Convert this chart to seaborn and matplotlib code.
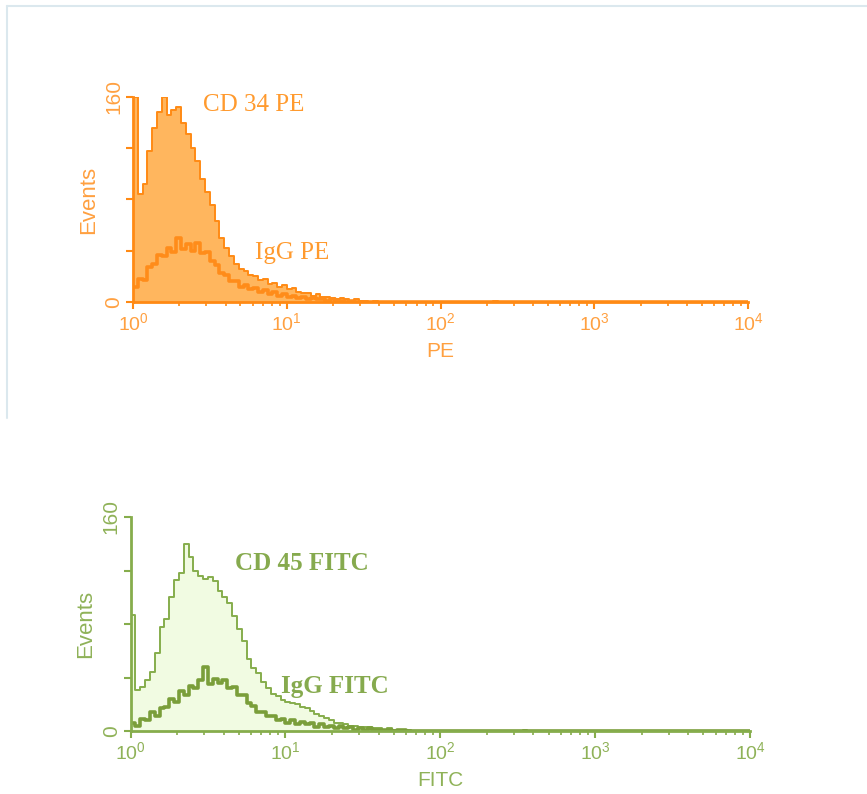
import numpy as np
import pandas as pd
import matplotlib
matplotlib.use("Agg")
import matplotlib.pyplot as plt
import seaborn as sns
from matplotlib.lines import Line2D
from matplotlib.ticker import FixedLocator, LogLocator, NullFormatter, FixedFormatter

# ---------------- data (counts per log channel, 32 channels per decade, starting at 10^0) ----
cd34_pe = [160, 84, 92, 118, 136, 148, 160, 146, 150, 152, 140, 131, 120, 110, 96, 86,
           76, 63, 50, 42, 36, 30, 26, 24, 21, 20, 17, 18, 14, 15, 12, 13,
           10, 11, 8, 7, 7, 5, 6, 4, 4, 3, 2, 3, 2, 1, 2, 1, 1, 0, 1]
igg_pe = [12, 18, 17, 27, 30, 37, 36, 42, 39, 50, 41, 45, 40, 46, 38, 39,
          32, 29, 23, 21, 16, 16, 12, 13, 10, 11, 8, 9, 6, 8, 5, 6,
          4, 5, 3, 4, 2, 3, 2, 2, 1, 2, 1, 1, 0, 1]
cd45_fitc = [87, 31, 33, 38, 44, 58, 78, 84, 100, 113, 118, 140, 130, 120, 116, 114,
             115, 112, 105, 100, 96, 86, 76, 67, 54, 47, 43, 37, 32, 28, 26, 23,
             22, 21, 20, 18, 17, 15, 13, 11, 10, 8, 6, 6, 5, 4, 4, 3,
             3, 3, 2, 2, 1, 2, 1, 1, 0, 1]
igg_fitc = [6, 4, 9, 8, 14, 11, 17, 18, 24, 22, 30, 27, 34, 32, 38, 48,
            35, 39, 36, 38, 32, 33, 27, 27, 21, 19, 14, 14, 11, 11, 8, 9,
            6, 8, 5, 7, 5, 6, 3, 5, 3, 4, 2, 4, 2, 3, 1, 2,
            1, 2, 1, 1, 1, 1, 0, 1, 1]
stray_pe = {75: 1}      # isolated events far out (channel: count)
stray_fitc = {81: 1}

channels_per_decade = 32
n_channels = 128
y_ticks = [0, 40, 80, 120, 160]
y_ticklabels = ["0", "", "", "", "160"]
x_decades = [1, 10, 100, 1000, 10000]
x_ticklabels = ["$10^{0}$", "$10^{1}$", "$10^{2}$", "$10^{3}$", "$10^{4}$"]


def full(counts, stray):
    c = np.zeros(n_channels)
    c[:len(counts)] = counts
    for k, v in stray.items():
        c[k] = v
    return c


centers = 10 ** ((np.arange(n_channels) + 0.5) / channels_per_decade)

# ---------------- style ----------------
sns.set_theme(style="white")
plt.rcParams["font.family"] = ["Liberation Sans", "DejaVu Sans"]
plt.rcParams["mathtext.fontset"] = "custom"
plt.rcParams["mathtext.rm"] = "Liberation Sans"
plt.rcParams["mathtext.it"] = "Liberation Sans"

fig = plt.figure(figsize=(8.67, 7.94), dpi=100)

# light frame around upper panel
fig.add_artist(Line2D([7 / 867, 1.0], [1 - 6 / 794, 1 - 6 / 794], color="#dbe8ee", lw=1.5))
fig.add_artist(Line2D([7 / 867, 7 / 867], [1 - 6 / 794, 1 - 418 / 794], color="#dbe8ee", lw=1.5))

panels = [
    dict(rect=[133 / 867, 1 - 302 / 794, 615 / 867, 205 / 794],
         main=full(cd34_pe, stray_pe), ctrl=full(igg_pe, {}),
         line="#ff8a14", fill="#ffb65e", ctrl_line="#ff8c1a", text="#ffa040",
         lab_text="#ff9a2e", xlabel="PE",
         lab_main=("CD 34 PE", 2.85, 154), lab_ctrl=("IgG PE", 6.2, 38),
         ann_weight="normal"),
    dict(rect=[130.5 / 867, 1 - 731 / 794, 619.5 / 867, 214 / 794],
         main=full(cd45_fitc, stray_fitc), ctrl=full(igg_fitc, {}),
         line="#86ad4c", fill="#f1fbe2", ctrl_line="#7a9e3a", text="#8fb258",
         lab_text="#86aa4e", xlabel="FITC",
         lab_main=("CD 45 FITC", 4.7, 125), lab_ctrl=("IgG FITC", 9.4, 33),
         ann_weight="bold"),
]

for p in panels:
    ax = fig.add_axes(p["rect"])
    df_main = pd.DataFrame({"x": centers, "w": p["main"]})
    df_ctrl = pd.DataFrame({"x": centers, "w": p["ctrl"]})
    sns.histplot(data=df_main, x="x", weights="w", binwidth=1 / channels_per_decade,
                 binrange=(0, 4), log_scale=True, element="step", fill=True,
                 color=p["fill"], alpha=1.0, linewidth=0, ax=ax)
    sns.histplot(data=df_main, x="x", weights="w", binwidth=1 / channels_per_decade,
                 binrange=(0, 4), log_scale=True, element="step", fill=False,
                 color=p["line"], linewidth=1.4, ax=ax)
    sns.histplot(data=df_ctrl, x="x", weights="w", binwidth=1 / channels_per_decade,
                 binrange=(0, 4), log_scale=True, element="step", fill=False,
                 color=p["ctrl_line"], linewidth=2.6, ax=ax)

    ax.set_xlim(1, 10000)
    ax.set_ylim(0, 160)
    ax.set_facecolor("none")
    for s in ["top", "right"]:
        ax.spines[s].set_visible(False)
    for s in ["left", "bottom"]:
        ax.spines[s].set_color(p["line"])
        ax.spines[s].set_linewidth(2.0)

    ax.xaxis.set_major_locator(FixedLocator(x_decades))
    ax.xaxis.set_major_formatter(FixedFormatter(x_ticklabels))
    ax.xaxis.set_minor_locator(LogLocator(base=10, subs=np.arange(2, 10)))
    ax.xaxis.set_minor_formatter(NullFormatter())
    ax.yaxis.set_major_locator(FixedLocator(y_ticks))
    ax.yaxis.set_major_formatter(FixedFormatter(y_ticklabels))

    ax.tick_params(axis="x", which="major", direction="out", length=5, width=1.5,
                   color=p["line"], labelcolor=p["text"], labelsize=14, pad=2,
                   bottom=True)
    ax.tick_params(axis="x", which="minor", direction="out", length=3, width=1.2,
                   color=p["line"], bottom=True)
    ax.tick_params(axis="y", which="major", direction="out", length=5, width=1.5,
                   color=p["line"], labelcolor=p["text"], labelsize=15, pad=2,
                   left=True)
    for t in ax.get_yticklabels():
        t.set_rotation(90)
        t.set_va("center")

    ax.set_xlabel(p["xlabel"], color=p["text"], fontsize=15, labelpad=6)
    ax.set_ylabel("Events", color=p["text"], fontsize=16, labelpad=4)

    for (txt, xv, yv) in [p["lab_main"], p["lab_ctrl"]]:
        ax.text(xv, yv, txt, color=p["lab_text"], fontsize=18,
                family=["Liberation Serif", "DejaVu Serif"],
                weight=p["ann_weight"], ha="left", va="center")

fig.savefig("out.png", dpi=100, facecolor="white")
